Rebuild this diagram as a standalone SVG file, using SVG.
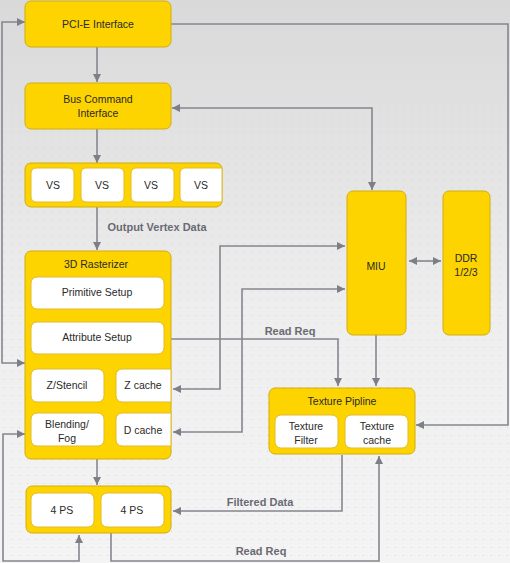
<svg xmlns="http://www.w3.org/2000/svg" width="510" height="563" viewBox="0 0 510 563">
<defs>
<linearGradient id="bg" x1="0" y1="0" x2="0" y2="1">
<stop offset="0" stop-color="#d9d9d9"/>
<stop offset="0.3" stop-color="#e4e4e4"/>
<stop offset="0.55" stop-color="#eeeeee"/>
<stop offset="1" stop-color="#f4f4f4"/>
</linearGradient>
<pattern id="dots" width="8" height="8" patternUnits="userSpaceOnUse">
<rect x="3" y="3" width="1" height="1" fill="#d4d4d4"/>
</pattern>
<marker id="ah" viewBox="0 0 8 8" refX="8" refY="4" markerWidth="8" markerHeight="8" markerUnits="userSpaceOnUse" orient="auto-start-reverse">
<path d="M0,0 L8,4 L0,8 z" fill="#7d7f88"/>
</marker>
</defs>
<style>
.y{fill:#fdd300;stroke:#d2ad10;stroke-width:1}
.w{fill:#ffffff;stroke:#e0bb30;stroke-width:1}
.t{font-family:"Liberation Sans",Arial,sans-serif;font-size:10.5px;fill:#2a2a2a;text-anchor:middle}
.l{font-family:"Liberation Sans",Arial,sans-serif;font-size:11px;font-weight:bold;fill:#6a6a72;text-anchor:middle}
.c{fill:none;stroke:#85878f;stroke-width:1.6}
.a{marker-end:url(#ah)}
.b{marker-start:url(#ah);marker-end:url(#ah)}
</style>
<rect width="510" height="563" fill="url(#bg)"/>
<rect width="510" height="563" fill="url(#dots)"/>

<g id="connectors">
<path class="c a" d="M97,47 V82"/>
<path class="c a" d="M97,129 V163"/>
<path class="c a" d="M97,207 V250"/>
<path class="c b" d="M172,108 H372 V190"/>
<path class="c a" d="M171,24 H508 V425 H416"/>
<path class="c b" d="M25,22 H2 V363 H25"/>
<path class="c b" d="M25,434 H3 V561 H79 V535"/>
<path class="c b" d="M345,246 H220 V389 H173"/>
<path class="c b" d="M345,289 H242 V432 H173"/>
<path class="c a" d="M171,339 H338 V386"/>
<path class="c a" d="M376,335 V386"/>
<path class="c b" d="M409,261 H441"/>
<path class="c a" d="M342,455 V511 H173"/>
<path class="c a" d="M111,533 V561 H379 V456"/>
<path class="c a" d="M97,458 V485"/>
<text class="l" x="157" y="231">Output Vertex Data</text>
<text class="l" x="290" y="335">Read Req</text>
<text class="l" x="260" y="506">Filtered Data</text>
<text class="l" x="261" y="555">Read Req</text>
</g>

<g id="pcie">
<rect class="y" x="25" y="1" width="146" height="46" rx="6"/>
<text class="t" x="98" y="28">PCI-E Interface</text>
</g>
<g id="buscmd">
<rect class="y" x="25" y="83" width="146" height="46" rx="6"/>
<text class="t" x="98" y="103">Bus Command</text>
<text class="t" x="98" y="117">Interface</text>
</g>
<g id="vs">
<rect class="y" x="25" y="163" width="197" height="44" rx="6"/>
<rect class="w" x="31" y="168" width="43" height="34" rx="5"/>
<rect class="w" x="81" y="168" width="43" height="34" rx="5"/>
<rect class="w" x="131" y="168" width="43" height="34" rx="5"/>
<path class="w" d="M185,168 H222 V202 H185 A5,5 0 0 1 180,197 V173 A5,5 0 0 1 185,168 Z"/>
<text class="t" x="53" y="189">VS</text>
<text class="t" x="102" y="189">VS</text>
<text class="t" x="151" y="189">VS</text>
<text class="t" x="201" y="189">VS</text>
</g>
<g id="rasterizer">
<rect class="y" x="25" y="251" width="146" height="208" rx="6"/>
<text class="t" x="96" y="268">3D Rasterizer</text>
<rect class="w" x="31" y="277" width="133" height="32" rx="6"/>
<text class="t" x="97" y="296">Primitive Setup</text>
<rect class="w" x="31" y="322" width="133" height="32" rx="6"/>
<text class="t" x="97" y="341">Attribute Setup</text>
<rect class="w" x="31" y="369" width="73" height="33" rx="6"/>
<text class="t" x="67" y="389">Z/Stencil</text>
<path class="w" d="M122,369 H171 V402 H122 A6,6 0 0 1 116,396 V375 A6,6 0 0 1 122,369 Z"/>
<text class="t" x="143" y="389">Z cache</text>
<rect class="w" x="31" y="413" width="73" height="33" rx="6"/>
<text class="t" x="67" y="428">Blending/</text>
<text class="t" x="67" y="442">Fog</text>
<path class="w" d="M122,413 H171 V446 H122 A6,6 0 0 1 116,440 V419 A6,6 0 0 1 122,413 Z"/>
<text class="t" x="143" y="434">D cache</text>
</g>
<g id="ps">
<rect class="y" x="26" y="486" width="145" height="47" rx="6"/>
<rect class="w" x="31" y="493" width="63" height="34" rx="6"/>
<text class="t" x="62" y="514">4 PS</text>
<rect class="w" x="101" y="493" width="63" height="34" rx="6"/>
<text class="t" x="132" y="514">4 PS</text>
</g>
<g id="miu">
<rect class="y" x="347" y="191" width="59" height="144" rx="6"/>
<text class="t" x="376" y="270">MIU</text>
</g>
<g id="ddr">
<rect class="y" x="443" y="191" width="47" height="144" rx="6"/>
<text class="t" x="466" y="262">DDR</text>
<text class="t" x="466" y="276">1/2/3</text>
</g>
<g id="texture">
<rect class="y" x="269" y="388" width="146" height="66" rx="6"/>
<text class="t" x="342" y="405">Texture Pipline</text>
<rect class="w" x="275" y="415" width="63" height="33" rx="6"/>
<text class="t" x="306" y="430">Texture</text>
<text class="t" x="306" y="444">Filter</text>
<rect class="w" x="345" y="415" width="63" height="33" rx="6"/>
<text class="t" x="377" y="430">Texture</text>
<text class="t" x="377" y="444">cache</text>
</g>
</svg>
